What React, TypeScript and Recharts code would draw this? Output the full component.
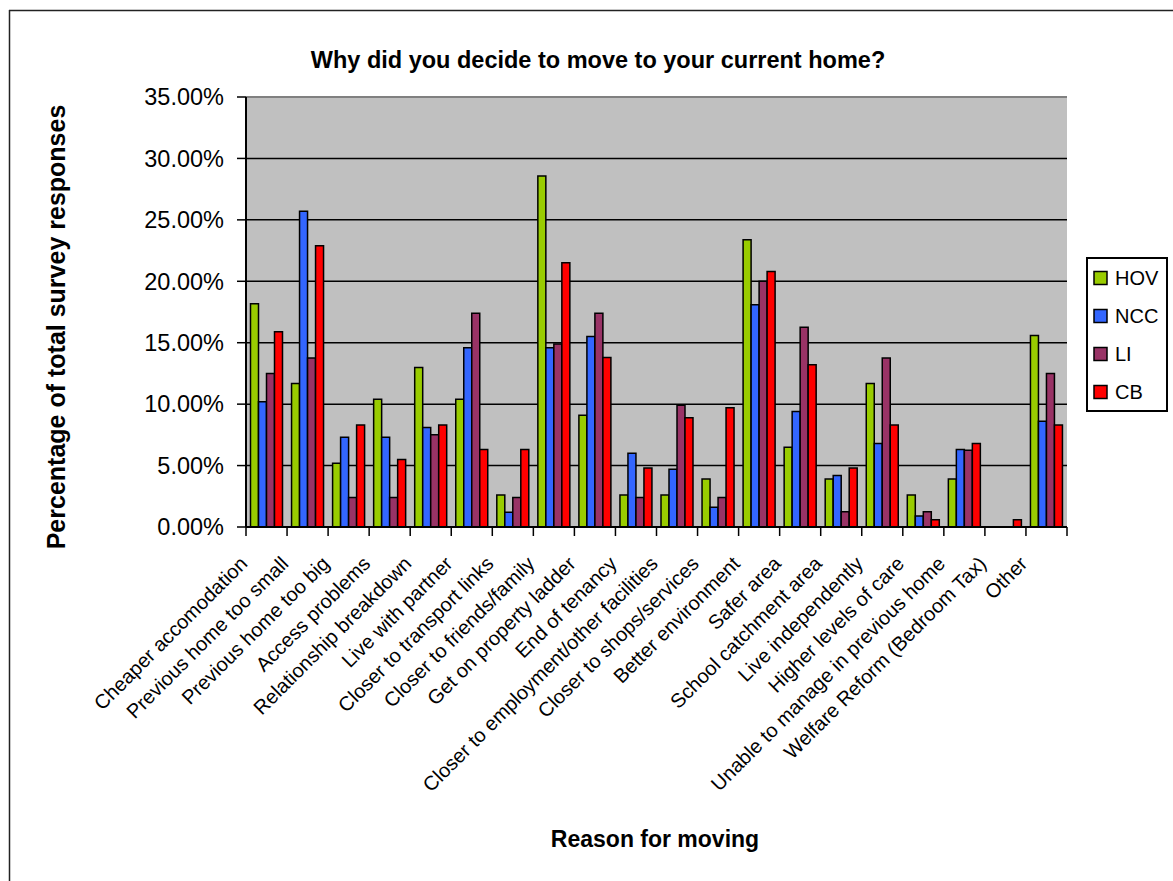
import { BarChart, Bar, XAxis, YAxis, CartesianGrid, ReferenceLine } from "recharts";

const FONT = '"Liberation Sans", Arial, sans-serif';

const CATEGORIES = [
  "Cheaper accomodation",
  "Previous home too small",
  "Previous home too big",
  "Access problems",
  "Relationship breakdown",
  "Live with partner",
  "Closer to transport links",
  "Closer to friends/family",
  "Get on property ladder",
  "End of tenancy",
  "Closer to employment/other facilities",
  "Closer to shops/services",
  "Better environment",
  "Safer area",
  "School catchment area",
  "Live independently",
  "Higher levels of care",
  "Unable to manage in previous home",
  "Welfare Reform (Bedroom Tax)",
  "Other",
];

const HOV = [18.18, 11.69, 5.19, 10.39, 12.99, 10.39, 2.6, 28.57, 9.09, 2.6, 2.6, 3.9, 23.38, 6.49, 3.9, 11.69, 2.6, 3.9, 0, 15.58];
const NCC = [10.2, 25.7, 7.3, 7.3, 8.1, 14.6, 1.2, 14.6, 15.5, 6.0, 4.7, 1.6, 18.1, 9.4, 4.2, 6.8, 0.9, 6.3, 0, 8.6];
const LI = [12.5, 13.75, 2.4, 2.4, 7.5, 17.4, 2.4, 14.9, 17.4, 2.4, 9.9, 2.4, 20.0, 16.25, 1.25, 13.75, 1.25, 6.25, 0, 12.5];
const CB = [15.9, 22.9, 8.3, 5.5, 8.3, 6.3, 6.3, 21.5, 13.8, 4.8, 8.9, 9.7, 20.8, 13.2, 4.8, 8.3, 0.6, 6.8, 0.6, 8.3];

const Y_TICKS = [0, 5, 10, 15, 20, 25, 30, 35];

const SERIES = [
  { key: "HOV", color: "#99CC00", values: HOV },
  { key: "NCC", color: "#3366FF", values: NCC },
  { key: "LI", color: "#993366", values: LI },
  { key: "CB", color: "#FF0000", values: CB },
];

const data = CATEGORIES.map((reason, i) => {
  const row: Record<string, string | number> = { reason };
  SERIES.forEach(s => { row[s.key] = s.values[i]; });
  return row;
});

const PLOT_LEFT = 246;
const PLOT_RIGHT = 1067;
const BAND = (PLOT_RIGHT - PLOT_LEFT) / CATEGORIES.length;

function XTick(props: any) {
  const { x, y, payload, index } = props;
  const last = index === CATEGORIES.length - 1;
  return (
    <g>
      <line x1={x - BAND / 2} x2={x - BAND / 2} y1={y} y2={y + 9} stroke="#000" strokeWidth={1.5} />
      {last && <line x1={x + BAND / 2} x2={x + BAND / 2} y1={y} y2={y + 9} stroke="#000" strokeWidth={1.5} />}
      <text
        transform={`translate(${x - 18},${y + 38}) rotate(-45)`}
        textAnchor="end"
        fontSize={20}
        fontFamily={FONT}
        fill="#000"
      >
        {payload.value}
      </text>
    </g>
  );
}

export default function App() {
  return (
    <div style={{ position: "absolute", left: 0, top: 0, width: 1173, height: 881, background: "#fff" }}>
      <BarChart
        width={1173}
        height={881}
        data={data}
        margin={{ top: 97, right: 106, bottom: 54, left: 10 }}
        barCategoryGap={4.5}
        barGap={0}
      >
        <CartesianGrid vertical={false} fill="#C0C0C0" fillOpacity={1} stroke="#000" strokeWidth={1.5} />
        <XAxis
          dataKey="reason"
          interval={0}
          height={300}
          tickLine={false}
          tickSize={0}
          tickMargin={0}
          axisLine={{ stroke: "#000", strokeWidth: 2 }}
          tick={(p: any) => <XTick {...p} />}
        />
        <YAxis
          domain={[0, 35]}
          ticks={Y_TICKS}
          interval={0}
          width={236}
          tickFormatter={(v: number) => `${v.toFixed(2)}%`}
          tick={{ fontSize: 23.5, fill: "#000", fontFamily: FONT }}
          tickSize={9}
          tickMargin={13}
          tickLine={{ stroke: "#000", strokeWidth: 1.5 }}
          axisLine={{ stroke: "#000", strokeWidth: 2 }}
        />
        <YAxis
          yAxisId="r"
          orientation="right"
          width={0}
          domain={[0, 35]}
          tick={false}
          tickLine={false}
          axisLine={{ stroke: "#808080", strokeWidth: 2 }}
        />
        <ReferenceLine y={35} stroke="#808080" strokeWidth={2} />
        {SERIES.map(s => (
          <Bar
            key={s.key}
            dataKey={s.key}
            name={s.key}
            fill={s.color}
            stroke="#000"
            strokeWidth={1.5}
            isAnimationActive={false}
          />
        ))}
      </BarChart>
      <svg
        width={1173}
        height={881}
        style={{ position: "absolute", left: 0, top: 0, pointerEvents: "none" }}
        fontFamily={FONT}
      >
        <line x1={9.5} y1={10} x2={9.5} y2={881} stroke="#222" strokeWidth={1.5} />
        <line x1={9} y1={10.5} x2={1173} y2={10.5} stroke="#222" strokeWidth={1.5} />
        <text x={598} y={68} textAnchor="middle" fontSize={23.5} fontWeight="bold" fill="#000">
          Why did you decide to move to your current home?
        </text>
        <text transform="translate(65,327) rotate(-90)" textAnchor="middle" fontSize={25} fontWeight="bold" fill="#000">
          Percentage of total survey responses
        </text>
        <text x={655} y={847} textAnchor="middle" fontSize={23} fontWeight="bold" fill="#000">
          Reason for moving
        </text>
        <rect x={1087} y={258} width={80} height={153} fill="#fff" stroke="#000" strokeWidth={2} />
        {SERIES.map((s, i) => {
          const cy = 278 + i * 38;
          return (
            <g key={s.key}>
              <rect x={1094} y={cy - 6.5} width={13} height={13} fill={s.color} stroke="#000" strokeWidth={1.5} />
              <text x={1115} y={cy + 7} fontSize={20} fill="#000">{s.key}</text>
            </g>
          );
        })}
      </svg>
    </div>
  );
}
